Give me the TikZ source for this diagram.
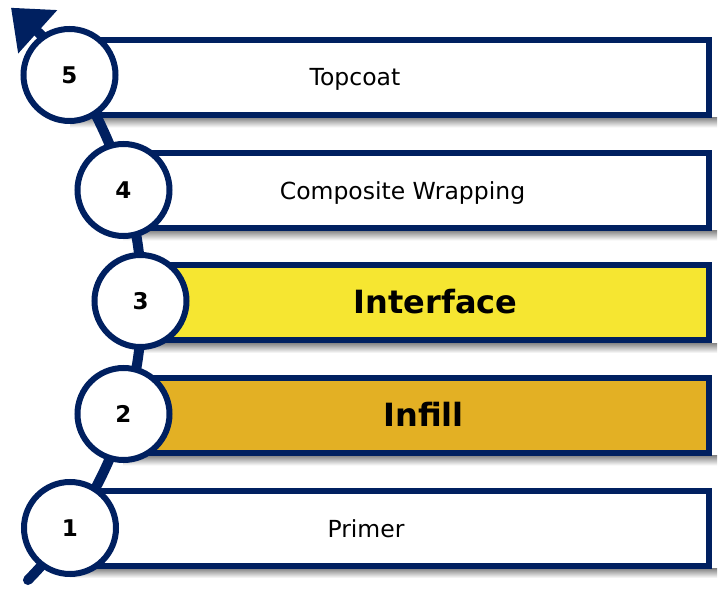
\documentclass[tikz,border=0pt]{standalone}
\usepackage{fontspec}
\setmainfont{DejaVu Sans}
\usetikzlibrary{arrows.meta}
\definecolor{navy}{HTML}{002060}
\definecolor{ylw}{HTML}{F6E631}
\definecolor{gld}{HTML}{E3B024}
\begin{document}
\begin{tikzpicture}[x=1pt,y=1pt,
  layerbox/.style={draw=navy,line width=6pt,rectangle,inner sep=0pt,anchor=east,minimum height=75pt},
  numcirc/.style={circle,draw=navy,fill=white,line width=6pt,minimum size=92pt,inner sep=0pt,font=\fontsize{23}{28}\selectfont\bfseries},
  lbl/.style={anchor=base,inner sep=0pt,font=\fontsize{23.5}{28}\selectfont},
  blbl/.style={anchor=base,inner sep=0pt,font=\fontsize{32}{38}\selectfont\bfseries},
  spine/.style={draw=navy,line width=10pt,line cap=round,-{Triangle[length=36pt,width=56pt]}},
  shadowband/.style={top color=black!45,bottom color=white,draw=none}
]
\useasboundingbox (0,0) rectangle (720,594);
% shadows
\shade[shadowband] (70,16) rectangle (717,25);
\shade[shadowband] (123,128.5) rectangle (717,138);
\shade[shadowband] (140,241) rectangle (717,250.5);
\shade[shadowband] (123,353.5) rectangle (717,363);
\shade[shadowband] (70,466.5) rectangle (717,476);
% boxes
\node[layerbox,minimum width=642pt] (b5) at (712,516.5) {};
\node[layerbox,minimum width=589pt] (b4) at (712,403.5) {};
\node[layerbox,minimum width=572pt,fill=ylw] (b3) at (712,291) {};
\node[layerbox,minimum width=589pt,fill=gld] (b2) at (712,178.5) {};
\node[layerbox,minimum width=642pt] (b1) at (712,65.5) {};
% spine arrow
\coordinate (hub) at (-254,292);
\coordinate (s) at ([shift={(-44.6:396)}]hub);
\draw[spine] (s) arc[start angle=-44.6, end angle=48, radius=396];
% circles
\node[numcirc] (c5) at (69.5,519) {5};
\node[numcirc] (c4) at (123.5,404) {4};
\node[numcirc] (c3) at (140.5,293) {3};
\node[numcirc] (c2) at (123.5,180) {2};
\node[numcirc] (c1) at (70,66) {1};
% labels
\node[lbl] (t5) at (355,508) {Topcoat};
\node[lbl] (t4) at (402.5,394) {Composite Wrapping};
\node[blbl] (t3) at (435.5,280) {Interface};
\node[blbl] (t2) at (423.5,167) {Infill};
\node[lbl] (t1) at (366,56.5) {Primer};
\end{tikzpicture}
\end{document}
